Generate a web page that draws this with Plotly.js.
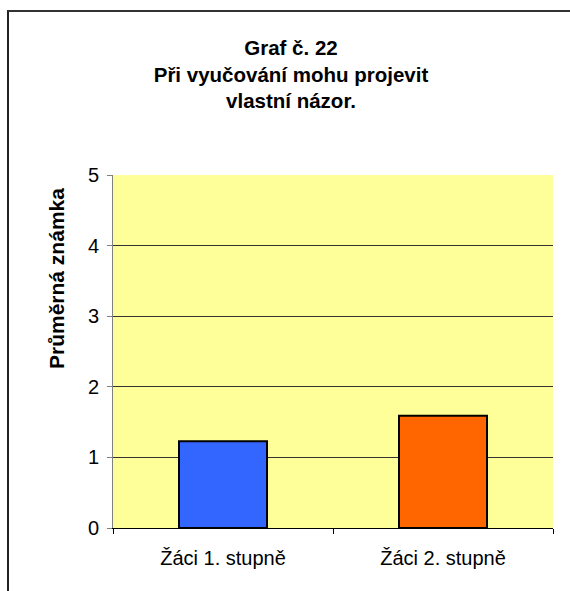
<!DOCTYPE html>
<html>
<head>
<meta charset="utf-8">
<script src="https://cdn.plot.ly/plotly-3.0.1.min.js"></script>
<style>
  html, body { margin: 0; padding: 0; background: #fff; }
  #wrap { position: relative; width: 570px; height: 591px; overflow: hidden; }
  #chart { position: absolute; left: 0; top: 0; width: 570px; height: 591px; }
  #frame {
    position: absolute; left: 7px; top: 10px; width: 600px; height: 600px;
    border-left: 2px solid #222; border-top: 2px solid #333;
    pointer-events: none;
  }
</style>
</head>
<body>
<div id="wrap">
  <div id="chart"></div>
  <div id="frame"></div>
</div>
<script>
// data
const categories = ["Žáci 1. stupně", "Žáci 2. stupně"];
const averages = [1.23, 1.59];
const barColors = ["#3366FF", "#FF6600"];
const yTicks = [0, 1, 2, 3, 4, 5];

const titleLines = ["Graf č. 22", "Při vyučování mohu projevit", "vlastní názor."];
const yTitle = "Průměrná známka";

const font = "Arial, 'Liberation Sans', sans-serif";

Plotly.newPlot(
  "chart",
  [
    {
      type: "bar",
      x: categories,
      y: averages,
      width: 0.4,
      marker: {
        color: barColors,
        line: { color: "#000", width: 2 },
      },
      hoverinfo: "none",
    },
  ],
  {
    width: 570,
    height: 591,
    margin: { l: 113, r: 17, t: 175, b: 63 },
    paper_bgcolor: "rgba(0,0,0,0)",
    plot_bgcolor: "#FFFF99",
    showlegend: false,
    font: { family: font, color: "#000" },
    title: {
      text: titleLines.map(t => "<b>" + t + "</b>").join("<br>"),
      font: { family: font, size: 20.5, color: "#000" },
      x: 291 / 570,
      xanchor: "center",
      y: 1 - 55 / 591,
      yanchor: "top",
    },
    xaxis: {
      type: "category",
      showline: true,
      linecolor: "#000",
      linewidth: 1,
      ticks: "outside",
      tickson: "boundaries",
      ticklen: 5,
      tickcolor: "#000",
      ticklabelstandoff: 12,
      showgrid: false,
      tickfont: { family: font, size: 20, color: "#000" },
      fixedrange: true,
    },
    yaxis: {
      range: [0, 5],
      tickvals: yTicks,
      showline: true,
      linecolor: "#808080",
      linewidth: 1,
      ticks: "outside",
      ticklen: 5,
      tickcolor: "#808080",
      ticklabelstandoff: 4,
      showgrid: true,
      gridcolor: "#333",
      gridwidth: 1,
      zeroline: false,
      tickfont: { family: font, size: 20, color: "#000" },
      fixedrange: true,
    },
    annotations: [
      {
        text: "<b>" + yTitle + "</b>",
        textangle: -90,
        xref: "paper",
        yref: "paper",
        x: (56 - 113) / 440,
        y: (528 - 279) / 353,
        xanchor: "center",
        yanchor: "middle",
        showarrow: false,
        font: { family: font, size: 21, color: "#000" },
      },
    ],
  },
  { displayModeBar: false, staticPlot: true }
);
</script>
</body>
</html>
